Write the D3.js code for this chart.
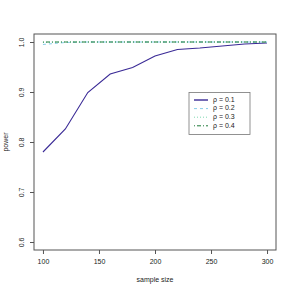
<!DOCTYPE html>
<html>
<head>
<meta charset="UTF-8">
<title>power</title>
<style>
body { margin: 0; background: #fff; }
text { font-family: "Liberation Sans", Arial, sans-serif; font-size: 7px; fill: #222; }
.axis path { stroke: none; }
.axis line { stroke: #555; }
</style>
</head>
<body>
<div class="chart"></div>
<script src="https://cdn.jsdelivr.net/npm/d3@7"></script>
<script>
let sampleSizes = [100, 120, 140, 160, 180, 200, 220, 240, 260, 280, 300];
let power01 = [0.780, 0.826, 0.899, 0.936, 0.949, 0.972, 0.985, 0.988, 0.992, 0.996, 0.998];
let power02 = [0.995, 0.999, 1, 1, 1, 1, 1, 1, 1, 1, 1];
let power03 = [0.999, 1, 1, 1, 1, 1, 1, 1, 1, 1, 1];
let power04 = [1, 1, 1, 1, 1, 1, 1, 1, 1, 1, 1];
let legendLabels = ['ρ = 0.1', 'ρ = 0.2', 'ρ = 0.3', 'ρ = 0.4'];
let xTicks = [100, 150, 200, 250, 300];
let yTicks = [0.6, 0.7, 0.8, 0.9, 1.0];

let width = 294, height = 294;
let mLeft = 34, mRight = 276, mTop = 34, mBottom = 250;

let series = [
    {vals: power01, color: '#3a2a96', dash: null, w: 1.1},
    {vals: power02, color: '#87cde9', dash: '3,3', w: 1},
    {vals: power03, color: '#7fd8b0', dash: '1,2', w: 1},
    {vals: power04, color: '#1e7a3a', dash: '1,2,4,2', w: 1}
];

let svg = d3.select('.chart').append('svg')
    .attr('width', width)
    .attr('height', height);

let xScale = d3.scaleLinear().domain([92, 308]).range([mLeft, mRight]);
let yScale = d3.scaleLinear().domain([0.584, 1.016]).range([mBottom, mTop]);

// axes
let xAxis = d3.axisBottom(xScale).tickValues(xTicks).tickSize(4).tickPadding(5)
    .tickFormat(d3.format('d'));
svg.append('g')
    .attr('class', 'axis')
    .attr('transform', 'translate(0,' + mBottom + ')')
    .call(xAxis);

let yAxis = d3.axisLeft(yScale).tickValues(yTicks).tickSize(4)
    .tickFormat(d3.format('.1f'));
let gy = svg.append('g')
    .attr('class', 'axis')
    .attr('transform', 'translate(' + mLeft + ',0)')
    .call(yAxis);
gy.selectAll('.tick text')
    .attr('x', 0).attr('dy', 0)
    .attr('transform', 'translate(-12,0) rotate(-90)')
    .attr('text-anchor', 'middle')
    .attr('dominant-baseline', 'middle');

svg.selectAll('.axis text').style('font-size', '7px').attr('fill', '#222');

// lines
let line = d3.line()
    .x(function (d, i) { return xScale(sampleSizes[i]); })
    .y(function (d) { return yScale(d); });

series.forEach(function (s) {
    svg.append('path')
        .attr('d', line(s.vals))
        .attr('fill', 'none')
        .attr('stroke', s.color)
        .attr('stroke-width', s.w)
        .attr('stroke-dasharray', s.dash);
});

// box
svg.append('rect')
    .attr('x', mLeft).attr('y', mTop)
    .attr('width', mRight - mLeft).attr('height', mBottom - mTop)
    .attr('fill', 'none').attr('stroke', '#555').attr('stroke-width', 1);

// axis titles
svg.append('text')
    .attr('x', (mLeft + mRight) / 2).attr('y', 282)
    .attr('text-anchor', 'middle')
    .text('sample size');
svg.append('text')
    .attr('transform', 'translate(8,' + (mTop + mBottom) / 2 + ') rotate(-90)')
    .attr('text-anchor', 'middle')
    .text('power');

// legend
let lg = svg.append('g');
lg.append('rect')
    .attr('x', 189).attr('y', 92.5)
    .attr('width', 61).attr('height', 42)
    .attr('fill', '#fff').attr('stroke', '#777').attr('stroke-width', 0.8);
legendLabels.forEach(function (lab, i) {
    let y = 100 + i * 8.6;
    lg.append('line')
        .attr('x1', 194).attr('x2', 208)
        .attr('y1', y).attr('y2', y)
        .attr('stroke', series[i].color)
        .attr('stroke-width', i === 0 ? 1.4 : 1)
        .attr('stroke-dasharray', series[i].dash);
    lg.append('text')
        .attr('x', 213).attr('y', y)
        .attr('dominant-baseline', 'middle')
        .text(lab);
});
</script>
</body>
</html>
